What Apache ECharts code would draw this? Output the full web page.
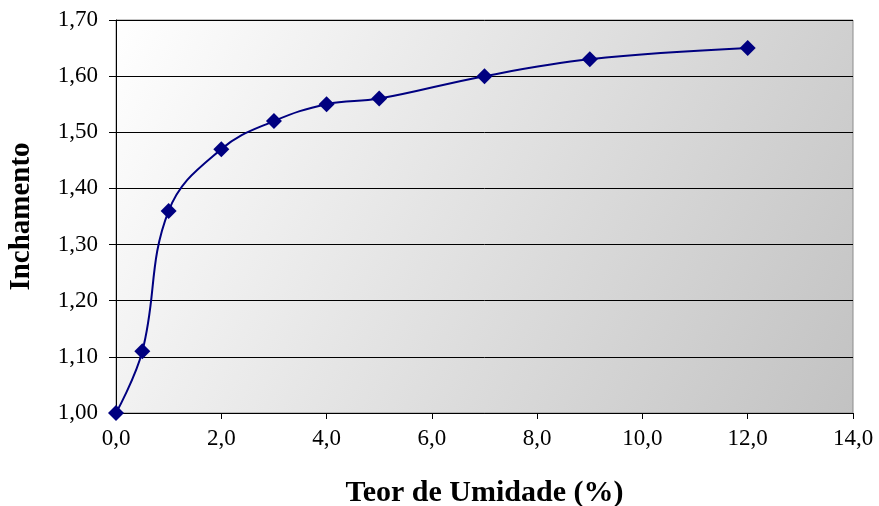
<!DOCTYPE html>
<html>
<head>
<meta charset="utf-8">
<script src="https://cdn.jsdelivr.net/npm/echarts@6/dist/echarts.min.js"></script>
<style>
  html, body { margin: 0; padding: 0; background: #ffffff; }
  #chart { width: 879px; height: 506px; }
</style>
</head>
<body>
<div id="chart"></div>
<script>
// Teor de umidade (%) e inchamento correspondente
const umidade = [0, 0.5, 1, 2, 3, 4, 5, 7, 9, 12];
const inchamento = [1.00, 1.11, 1.36, 1.47, 1.52, 1.55, 1.56, 1.60, 1.63, 1.65];
const xTitulo = 'Teor de Umidade (%)';
const yTitulo = 'Inchamento';

const fmt = (v, d) => v.toFixed(d).replace('.', ',');
const serif = '"Liberation Serif", "Times New Roman", serif';

const chart = echarts.init(document.getElementById('chart'), null, { renderer: 'canvas' });
chart.setOption({
  animation: false,
  grid: {
    left: 116, right: 26, top: 20, bottom: 93,
    containLabel: false,
    outerBoundsMode: 'none',
    show: true,
    borderColor: '#8c8c8c',
    borderWidth: 1,
    backgroundColor: new echarts.graphic.LinearGradient(0, 0, 1, 1, [
      { offset: 0, color: '#ffffff' },
      { offset: 1, color: '#c2c2c2' }
    ])
  },
  xAxis: {
    type: 'value', min: 0, max: 14, interval: 2,
    name: xTitulo, nameLocation: 'middle', nameGap: 65,
    nameTextStyle: { fontFamily: serif, fontSize: 30, fontWeight: 'bold', color: '#000' },
    axisLine: { show: true, lineStyle: { color: '#000', width: 1 } },
    axisTick: { show: true, length: 6, lineStyle: { color: '#000' } },
    axisLabel: { margin: 14, fontFamily: serif, fontSize: 23, color: '#000', formatter: v => fmt(v, 1) },
    splitLine: { show: false }
  },
  yAxis: {
    type: 'value', min: 1.0, max: 1.7, interval: 0.1,
    name: yTitulo, nameLocation: 'middle', nameGap: 80, nameRotate: 90,
    nameTextStyle: { fontFamily: serif, fontSize: 29, fontWeight: 'bold', color: '#000' },
    axisLine: { show: true, lineStyle: { color: '#000', width: 1 } },
    axisTick: { show: true, length: 7, lineStyle: { color: '#000' } },
    axisLabel: { margin: 18, fontFamily: serif, fontSize: 23, color: '#000', formatter: v => fmt(v, 2) },
    splitLine: { show: true, lineStyle: { color: '#000', width: 1 } }
  },
  series: [{
    type: 'line',
    data: umidade.map((x, i) => [x, inchamento[i]]),
    smooth: 0.4,
    symbol: 'diamond',
    symbolSize: 16,
    itemStyle: { color: '#000080' },
    lineStyle: { color: '#000080', width: 2 },
    clip: false
  }]
});
</script>
</body>
</html>
